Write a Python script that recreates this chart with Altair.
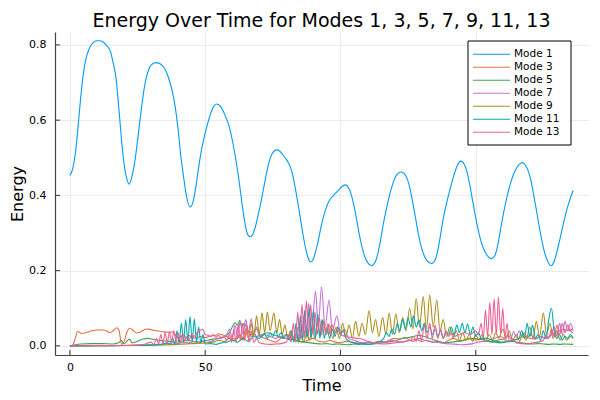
import altair as alt
import pandas as pd

NAMES = ["Mode 1", "Mode 3", "Mode 5", "Mode 7", "Mode 9", "Mode 11", "Mode 13"]
COLORS = ["#009AFA", "#E36F47", "#3EA44E", "#C371D2", "#AC8E18", "#00AAAE", "#ED5E93"]
TITLE = "Energy Over Time for Modes 1, 3, 5, 7, 9, 11, 13"
X_TICKS = [0, 50, 100, 150]
Y_TICKS = [0.0, 0.2, 0.4, 0.6, 0.8]

MODE1 = [(0,0.453),(1,0.47),(2,0.51),(3,0.58),(4,0.66),(5,0.725),(6,0.765),(7,0.787),(8,0.801),(9,0.808),(10,0.811),(11,0.811),(12,0.809),(13,0.803),(14,0.795),(15,0.782),(16,0.752),(17,0.715),(18,0.64),(19,0.555),(20,0.485),(21,0.445),(21.9,0.43),(23,0.452),(24,0.49),(25,0.545),(26,0.605),(27,0.662),(28,0.705),(29,0.732),(30,0.746),(31.8,0.753),(33,0.751),(34,0.746),(35,0.738),(36,0.722),(37,0.7),(38,0.672),(39,0.632),(40,0.575),(41,0.505),(42,0.45),(43,0.402),(44.4,0.369),(45.5,0.382),(46.5,0.42),(47.5,0.47),(48.5,0.515),(49.5,0.55),(50.5,0.58),(51.5,0.605),(52.5,0.627),(54.2,0.643),(55.5,0.638),(56.5,0.627),(57.5,0.61),(58.5,0.592),(59.5,0.565),(60.5,0.53),(61.5,0.488),(62.5,0.44),(63.5,0.385),(64.5,0.335),(65.5,0.3),(66.5,0.29),(67.5,0.295),(68.5,0.315),(69.5,0.345),(70.5,0.378),(71.5,0.415),(72.5,0.452),(73.5,0.485),(74.5,0.507),(75.5,0.518),(76.5,0.521),(77.5,0.518),(78.5,0.51),(79.5,0.5),(80.5,0.49),(81.5,0.475),(82.5,0.45),(83.5,0.412),(84.5,0.37),(85.5,0.325),(86.5,0.282),(87.5,0.248),(88.3,0.229),(89,0.223),(89.8,0.228),(90.8,0.25),(91.8,0.28),(92.8,0.315),(93.8,0.345),(94.8,0.368),(95.8,0.385),(96.8,0.395),(97.8,0.403),(98.8,0.41),(99.8,0.418),(100.8,0.425),(101.9,0.428),(103,0.42),(104,0.402),(105,0.372),(106,0.335),(107,0.295),(108,0.262),(109,0.237),(110,0.222),(111.5,0.213),(112.8,0.222),(113.8,0.245),(114.8,0.28),(115.8,0.322),(116.8,0.358),(117.8,0.39),(118.8,0.418),(119.8,0.44),(120.8,0.455),(122.4,0.462),(123.8,0.456),(124.8,0.442),(125.8,0.415),(126.8,0.378),(127.8,0.338),(128.8,0.298),(129.8,0.265),(130.8,0.242),(131.8,0.228),(133.7,0.219),(135,0.228),(136,0.255),(137,0.295),(138,0.338),(139,0.372),(140,0.402),(141,0.43),(142,0.455),(143,0.476),(144.5,0.491),(145.8,0.482),(146.8,0.462),(147.8,0.428),(148.8,0.388),(149.8,0.348),(150.8,0.312),(151.8,0.282),(152.8,0.26),(153.8,0.245),(155.9,0.232),(157.2,0.242),(158.2,0.27),(159.2,0.31),(160.2,0.35),(161.2,0.385),(162.2,0.415),(163.2,0.44),(164.2,0.46),(165.2,0.474),(166.2,0.483),(167.2,0.487),(168.4,0.48),(169.4,0.465),(170.4,0.44),(171.4,0.402),(172.4,0.362),(173.4,0.32),(174.4,0.282),(175.4,0.25),(176.4,0.228),(177.8,0.213),(179,0.225),(180,0.25),(181,0.28),(182,0.312),(183,0.343),(184,0.37),(185,0.393),(186,0.413)]

MODE3 = [(0,0),(1,0.002),(2,0.02),(2.8,0.038),(4.5,0.033),(6.5,0.036),(8.5,0.041),(10,0.042),(12,0.042),(13.5,0.04),(14.8,0.035),(16,0.04),(17.3,0.048),(18.2,0.04),(19.1,0.004),(20,0.01),(21,0.035),(22.2,0.047),(23.5,0.04),(24.6,0.034),(26,0.037),(28.3,0.045),(30,0.043),(32,0.04),(34,0.038),(36,0.036),(38,0.037),(39,0.03),(40,0.02),(41,0.025),(42,0.03),(43,0.02),(44,0.028),(45,0.022),(46,0.027),(47,0.02),(48,0.025),(50,0.022),(52,0.026),(54,0.028),(55,0.032),(56,0.03),(58,0.025),(60,0.018),(62,0.02),(63,0.03),(64,0.015),(65,0.03),(66,0.04),(67,0.025),(68,0.035),(69,0.045),(70,0.03),(72,0.02),(74,0.015),(76,0.01),(78,0.02),(80,0.03),(82,0.02),(84,0.012),(86,0.01),(88,0.015),(90,0.02),(92,0.012),(94,0.01),(96,0.015),(98,0.01),(100,0.008),(102,0.012),(104,0.01),(106,0.008),(108,0.006),(110,0.01),(112,0.008),(114,0.012),(116,0.01),(118,0.015),(120,0.02),(122,0.018),(124,0.022),(126,0.015),(128,0.018),(130,0.012),(132,0.015),(134,0.01),(136,0.012),(138,0.008),(140,0.015),(142,0.02),(144,0.012),(146,0.015),(148,0.02),(150,0.015),(152,0.02),(154,0.012),(156,0.01),(158,0.015),(160,0.018),(162,0.012),(164,0.015),(166,0.02),(168,0.025),(170,0.02),(172,0.018),(174,0.025),(176,0.02),(178,0.03),(180,0.035),(182,0.045),(184,0.04),(186,0.045)]

MODE5 = [(0,0),(2,0.003),(4,0.005),(8,0.006),(12,0.006),(16,0.005),(18,0.008),(19,0.015),(20,0.005),(21,0.012),(22,0.018),(23,0.008),(25,0.012),(27,0.018),(29,0.02),(31,0.017),(33,0.015),(35,0.013),(37,0.012),(39,0.01),(41,0.012),(43,0.015),(45,0.012),(47,0.01),(49,0.012),(51,0.015),(53,0.018),(55,0.02),(57,0.025),(59,0.035),(60,0.05),(61,0.062),(62,0.055),(62.8,0.068),(63.5,0.05),(64.5,0.06),(65.5,0.045),(67,0.03),(68,0.035),(69,0.025),(71,0.03),(73,0.035),(75,0.03),(77,0.025),(79,0.02),(81,0.018),(83,0.015),(85,0.012),(87,0.01),(89,0.008),(91,0.006),(93,0.005),(95,0.006),(97,0.004),(99,0.005),(101,0.004),(103,0.003),(105,0.005),(107,0.004),(109,0.006),(111,0.004),(113,0.006),(115,0.008),(117,0.01),(119,0.012),(121,0.015),(123,0.02),(125,0.022),(127,0.025),(129,0.028),(131,0.025),(133,0.02),(135,0.015),(137,0.01),(139,0.008),(141,0.01),(143,0.012),(145,0.015),(147,0.018),(149,0.02),(151,0.018),(153,0.015),(155,0.012),(157,0.01),(159,0.008),(161,0.01),(163,0.012),(165,0.01),(167,0.008),(169,0.006),(171,0.005),(173,0.006),(175,0.005),(177,0.004),(179,0.005),(181,0.004),(183,0.005),(186,0.004)]

MODE7 = [(0,0),(10,0.0005),(20,0.001),(30,0.003),(35,0.005),(38,0.008),(40,0.006),(42,0.01),(44,0.008),(46,0.012),(48,0.01),(50,0.015),(52,0.012),(54,0.018),(56,0.02),(58,0.03),(59,0.045),(60,0.02),(61,0.055),(62,0.025),(63,0.065),(64,0.03),(65,0.07),(66,0.035),(67,0.072),(68,0.03),(69,0.05),(70,0.025),(72,0.03),(74,0.025),(76,0.02),(78,0.025),(80,0.02),(82,0.03),(83,0.02),(84.5,0.05),(85.5,0.02),(86.5,0.08),(87.3,0.03),(88.2,0.113),(89.3,0.04),(90.8,0.145),(91.8,0.05),(93,0.157),(94.3,0.05),(95.8,0.122),(97,0.04),(98.7,0.08),(100,0.035),(101.5,0.045),(103,0.02),(105,0.015),(107,0.01),(109,0.008),(111,0.01),(113,0.008),(115,0.012),(117,0.01),(119,0.015),(121,0.012),(123,0.01),(125,0.015),(127,0.012),(129,0.02),(131,0.015),(133,0.012),(135,0.01),(137,0.008),(139,0.006),(141,0.005),(143,0.004),(145,0.003),(147,0.004),(149,0.006),(151,0.01),(153,0.012),(155,0.015),(157,0.02),(159,0.025),(161,0.02),(162,0.03),(163,0.02),(164,0.038),(165,0.022),(166,0.04),(167,0.025),(168,0.035),(169,0.02),(170,0.03),(172,0.02),(174,0.025),(176,0.02),(178,0.03),(179,0.05),(180,0.025),(181,0.06),(182,0.03),(183,0.065),(184,0.04),(185,0.06),(186,0.04)]

MODE9 = [(0,0),(10,0.0005),(20,0.001),(30,0.002),(40,0.004),(45,0.006),(50,0.008),(53,0.01),(55,0.015),(57,0.012),(59,0.02),(61,0.015),(63,0.03),(64,0.02),(65,0.045),(66,0.02),(67,0.06),(68,0.025),(69,0.08),(70,0.03),(71,0.088),(72,0.035),(73,0.09),(74,0.04),(75.4,0.087),(76.5,0.035),(77.5,0.07),(78.5,0.03),(79.5,0.055),(80.5,0.02),(81.5,0.04),(82.5,0.015),(83.5,0.03),(84.5,0.01),(85.5,0.025),(86.5,0.012),(87.5,0.035),(88.5,0.015),(89.5,0.05),(90.5,0.02),(91.5,0.06),(92.5,0.025),(93.6,0.069),(94.8,0.03),(96,0.055),(97.2,0.02),(98.4,0.05),(99.6,0.02),(100.8,0.06),(102,0.025),(103.2,0.055),(104.4,0.02),(105.6,0.065),(106.8,0.025),(108,0.06),(109.2,0.03),(110.6,0.094),(111.8,0.035),(113,0.07),(114.2,0.025),(115.6,0.075),(116.8,0.03),(118,0.088),(119.2,0.03),(120.5,0.085),(121.7,0.035),(123,0.075),(124.2,0.04),(125.6,0.1),(126.8,0.045),(128,0.126),(129.2,0.05),(130.6,0.131),(131.8,0.045),(133,0.135),(134.3,0.05),(135.6,0.122),(136.8,0.04),(138,0.07),(139.2,0.025),(140.4,0.05),(141.6,0.02),(142.8,0.04),(144,0.015),(145.2,0.035),(146.4,0.015),(147.6,0.03),(148.8,0.012),(150,0.03),(151.2,0.015),(152.4,0.03),(153.6,0.012),(155,0.03),(156.2,0.015),(157.4,0.035),(158.6,0.02),(160,0.045),(161.2,0.02),(162.4,0.04),(163.6,0.015),(165,0.03),(166.2,0.012),(167.4,0.035),(168.6,0.015),(170,0.05),(171.2,0.02),(172.4,0.065),(173.6,0.025),(175,0.087),(176.2,0.03),(177.4,0.06),(178.6,0.02),(180,0.04),(181.2,0.015),(182.4,0.03),(183.6,0.015),(185,0.025),(186,0.02)]

MODE11 = [(0,0),(10,0.0005),(20,0.001),(30,0.002),(34,0.004),(36,0.008),(37,0.004),(38,0.02),(38.8,0.005),(39.6,0.04),(40.4,0.008),(41.2,0.06),(42,0.01),(42.8,0.07),(43.6,0.012),(44.4,0.078),(45.2,0.01),(46,0.072),(46.8,0.01),(47.6,0.05),(48.4,0.008),(49.2,0.03),(50,0.005),(52,0.006),(54,0.004),(56,0.008),(58,0.01),(60,0.015),(62,0.01),(64,0.02),(66,0.012),(68,0.025),(70,0.02),(72,0.03),(73,0.02),(74,0.035),(75,0.025),(76,0.04),(77,0.025),(78,0.035),(79,0.02),(80,0.03),(81,0.015),(82,0.04),(82.8,0.01),(83.6,0.06),(84.4,0.01),(85.2,0.08),(86,0.015),(86.8,0.095),(87.6,0.02),(88.4,0.1),(89.2,0.02),(90,0.095),(90.8,0.02),(91.6,0.085),(92.4,0.02),(93.2,0.07),(94,0.02),(95,0.05),(96,0.02),(97,0.045),(98,0.025),(99,0.05),(100,0.03),(101,0.04),(102,0.02),(104,0.01),(106,0.006),(108,0.005),(110,0.004),(112,0.006),(114,0.01),(116,0.02),(117,0.035),(118,0.025),(119,0.045),(120,0.03),(121,0.06),(122,0.04),(123,0.07),(124,0.045),(125,0.075),(126,0.05),(127,0.08),(128,0.05),(129,0.07),(130,0.04),(131,0.06),(132,0.035),(133,0.05),(134,0.03),(135,0.045),(136,0.025),(137,0.04),(138,0.02),(139,0.035),(140,0.03),(141,0.05),(142,0.03),(143,0.055),(144,0.035),(145,0.06),(146,0.035),(147,0.058),(148,0.03),(149,0.05),(150,0.025),(151,0.035),(152,0.02),(154,0.02),(156,0.015),(158,0.012),(160,0.01),(162,0.012),(164,0.015),(166,0.02),(167,0.04),(168,0.02),(169,0.06),(170,0.025),(171,0.055),(172,0.02),(173,0.03),(174,0.015),(175,0.04),(176,0.02),(177,0.07),(178,0.1),(179,0.04),(180,0.02),(181,0.03),(182,0.015),(183,0.025),(184,0.02),(185,0.03),(186,0.02)]

MODE13 = [(0,0),(10,0.0005),(20,0.001),(25,0.002),(28,0.005),(30,0.01),(31,0.003),(32,0.02),(32.8,0.005),(33.6,0.03),(34.4,0.005),(35.2,0.035),(36,0.008),(36.8,0.038),(37.6,0.01),(38.4,0.04),(39.2,0.01),(40,0.035),(40.8,0.01),(41.6,0.03),(42.4,0.012),(43.2,0.025),(44,0.015),(45,0.03),(46,0.02),(47,0.035),(48,0.04),(49,0.045),(50,0.03),(51,0.028),(52,0.025),(53,0.03),(54,0.022),(55,0.028),(56,0.02),(57,0.025),(58,0.015),(59,0.03),(59.8,0.01),(60.6,0.045),(61.4,0.01),(62.2,0.055),(63,0.015),(63.8,0.06),(64.6,0.015),(65.4,0.055),(66.2,0.01),(67,0.04),(68,0.01),(69,0.02),(70,0.008),(72,0.005),(74,0.004),(76,0.005),(78,0.006),(80,0.01),(81,0.03),(81.8,0.01),(82.6,0.06),(83.4,0.01),(84.2,0.09),(85,0.015),(85.8,0.11),(86.6,0.02),(87.4,0.12),(88.2,0.025),(89,0.11),(89.8,0.03),(90.6,0.09),(91.4,0.03),(92.2,0.075),(93,0.03),(93.8,0.065),(94.6,0.03),(95.4,0.06),(96.2,0.03),(97,0.055),(98,0.035),(99,0.045),(100,0.03),(102,0.025),(104,0.022),(106,0.02),(108,0.018),(110,0.012),(112,0.008),(114,0.006),(116,0.005),(118,0.006),(120,0.008),(122,0.01),(124,0.012),(126,0.015),(127,0.025),(128,0.012),(129,0.04),(130,0.015),(131,0.055),(132,0.02),(133,0.06),(134,0.02),(135,0.055),(136,0.02),(137,0.045),(138,0.02),(139,0.04),(140,0.025),(141,0.035),(142,0.025),(144,0.03),(146,0.035),(148,0.03),(150,0.04),(151,0.03),(152,0.06),(152.8,0.02),(153.6,0.095),(154.4,0.025),(155.2,0.115),(156,0.03),(156.8,0.125),(157.6,0.03),(158.4,0.13),(159.2,0.03),(160,0.1),(160.8,0.02),(161.6,0.06),(162.4,0.01),(163.5,0.02),(165,0.008),(167,0.006),(169,0.005),(171,0.008),(173,0.01),(175,0.015),(176,0.03),(177,0.02),(178,0.045),(179,0.025),(180,0.055),(181,0.03),(182,0.06),(183,0.035),(184,0.055),(185,0.04),(186,0.035)]

SERIES = [MODE1, MODE3, MODE5, MODE7, MODE9, MODE11, MODE13]

rows = []
for name, pts in zip(NAMES, SERIES):
    for t, v in pts:
        rows.append({"series": name, "t": t, "v": v})
df = pd.DataFrame(rows)

W, H = 533, 323
FONT = "DejaVu Sans"

xscale = alt.Scale(domain=[-5.5, 191.5], nice=False, zero=False)
yscale = alt.Scale(domain=[-0.0243, 0.8343], nice=False, zero=False)
xaxis = alt.Axis(values=X_TICKS, title="Time", labelPadding=6, titlePadding=5, format="d")
yaxis = alt.Axis(values=Y_TICKS, title="Energy", labelPadding=9, titlePadding=3, format=".1f")
color = alt.Color("series:N", scale=alt.Scale(domain=NAMES, range=COLORS), legend=None)

layers = []
for name in NAMES:
    layers.append(
        alt.Chart(df)
        .transform_filter(alt.datum.series == name)
        .mark_line(interpolate="monotone", strokeWidth=1.1, clip=True)
        .encode(
            x=alt.X("t:Q", scale=xscale, axis=xaxis),
            y=alt.Y("v:Q", scale=yscale, axis=yaxis),
            color=color,
        )
    )

yticks = alt.Chart(pd.DataFrame({"v": Y_TICKS})).mark_rule(color="#333333", strokeWidth=1).encode(
    y=alt.Y("v:Q", scale=yscale, axis=yaxis), x=alt.value(0), x2=alt.value(5)
)
xticks = alt.Chart(pd.DataFrame({"t": X_TICKS})).mark_rule(color="#333333", strokeWidth=1).encode(
    x=alt.X("t:Q", scale=xscale, axis=xaxis), y=alt.value(H), y2=alt.value(H - 5)
)

main = alt.layer(*layers, yticks, xticks)

leg_df = pd.DataFrame({"series": NAMES})
leg_y = alt.Y("series:N", scale=alt.Scale(type="point", domain=NAMES, range=[22.3, 100.3], padding=0), axis=None)
box = alt.Chart(pd.DataFrame({"a": [0]})).mark_rect(fill="white", stroke="black", strokeWidth=1).encode(
    x=alt.value(413), x2=alt.value(516), y=alt.value(9), y2=alt.value(113)
)
leg_lines = alt.Chart(leg_df).mark_rule(strokeWidth=1.1).encode(
    y=leg_y, x=alt.value(418), x2=alt.value(455), color=color
)
leg_text = alt.Chart(leg_df).mark_text(align="left", baseline="middle", fontSize=10.5, font=FONT, color="black").encode(
    y=leg_y, x=alt.value(459), text="series:N"
)
legend = alt.layer(box, leg_lines, leg_text)

chart = (
    alt.layer(main, legend)
    .resolve_scale(y="independent")
    .properties(
        width=W,
        height=H,
        title=alt.TitleParams(text=TITLE, fontSize=19, font=FONT, fontWeight="normal", anchor="middle",
                              offset=1, color="black"),
        padding={"left": 47, "top": 24, "right": 4, "bottom": 40},
        autosize=alt.AutoSizeParams(type="none"),
    )
    .configure_view(strokeWidth=0)
    .configure_axis(
        grid=True, gridColor="#ebebeb", gridWidth=1,
        domainColor="#444444", domainWidth=1.2,
        ticks=False, tickSize=0,
        labelFont=FONT, labelFontSize=11, labelColor="black",
        titleFont=FONT, titleFontSize=16, titleFontWeight="normal", titleColor="black",
    )
)

chart.save("out.html", embed_options={"renderer": "svg", "actions": False})
